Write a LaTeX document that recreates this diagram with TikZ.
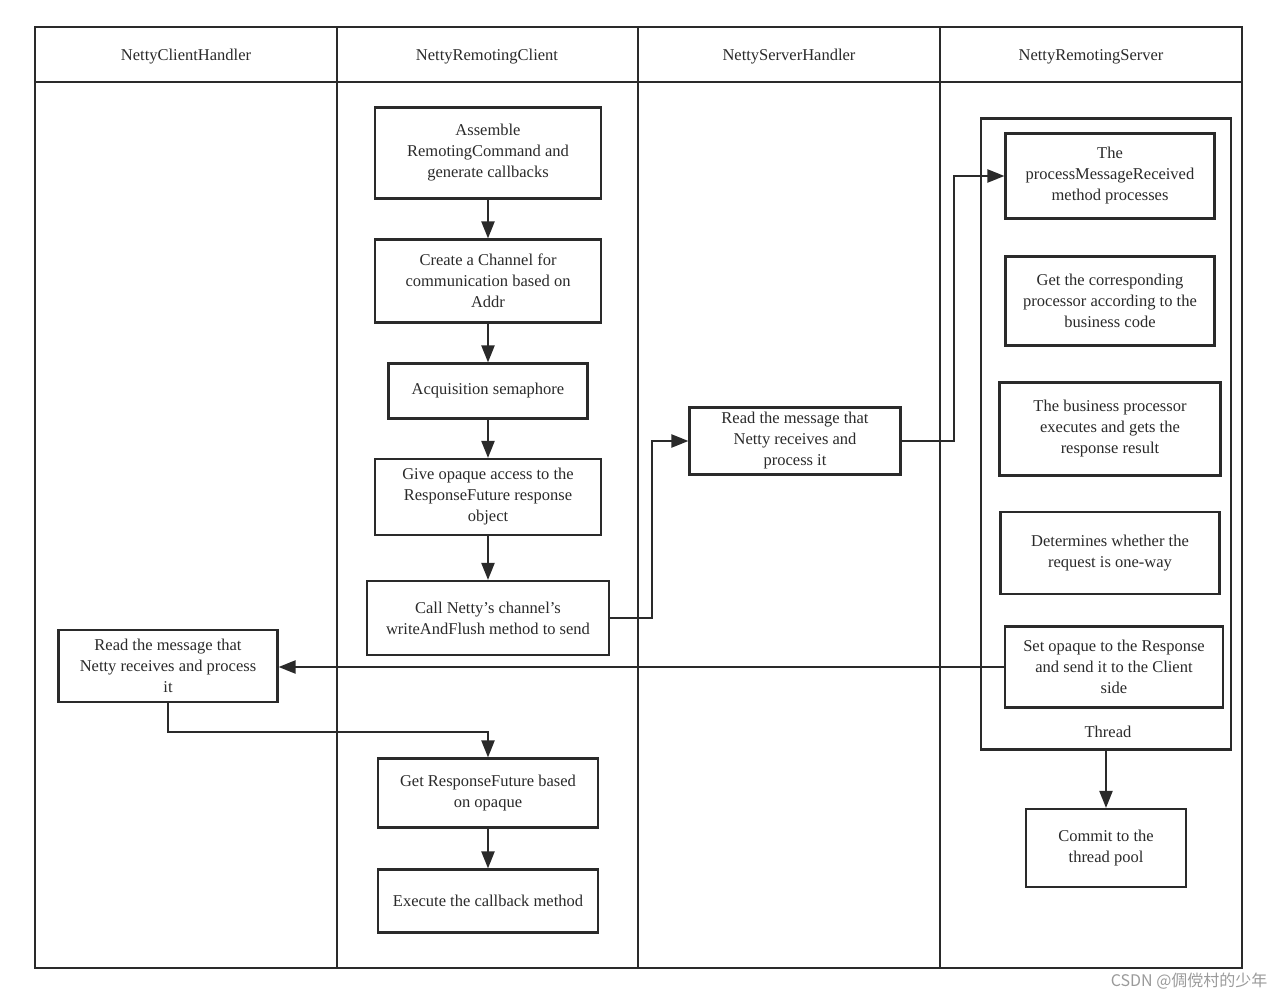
\documentclass[tikz,border=0pt]{standalone}
\usepackage{fontspec}
\setmainfont{Liberation Serif}
\newfontfamily\cjkfont{Noto Sans CJK SC}
\usetikzlibrary{arrows.meta}
\definecolor{ink}{HTML}{2A2A2A}
\definecolor{mark}{HTML}{9A9A9A}

\begin{document}
\begin{tikzpicture}[x=1pt, y=-1pt,
    box/.style={draw=ink, line width=2.1pt, align=center, inner sep=0pt, text=ink, font=\fontsize{16.5}{21}\selectfont},
    lane/.style={draw=ink, line width=2.4pt},
    head/.style={text=ink, font=\fontsize{16.5}{20}\selectfont},
    flow/.style={draw=ink, line width=2.1pt, -{Triangle[length=17pt, width=13pt]}}]
\useasboundingbox (0,0) rectangle (1286,1000);

% swim lanes
\draw[lane] (35,27) rectangle (1242,968);
\draw[lane] (35,82) -- (1242,82);
\foreach \x in {337,638,940}
    \draw[lane] (\x,27) -- (\x,968);

\node[head] (hdrClientHandler) at (186,57) {NettyClientHandler};
\node[head] (hdrRemotingClient) at (487,57) {NettyRemotingClient};
\node[head] (hdrServerHandler) at (789,57) {NettyServerHandler};
\node[head] (hdrRemotingServer) at (1091,57) {NettyRemotingServer};

% NettyRemotingClient
\node[box, minimum width=226, minimum height=91] (assemble) at (488,153) {Assemble\\RemotingCommand and\\generate callbacks};
\node[box, minimum width=226, minimum height=83] (channel) at (488,281) {Create a Channel for\\communication based on\\Addr};
\node[box, minimum width=199, minimum height=55] (semaphore) at (488,391) {Acquisition semaphore};
\node[box, minimum width=226, minimum height=76] (opaque) at (488,497) {Give opaque access to the\\ResponseFuture response\\object};
\node[box, minimum width=242, minimum height=74] (send) at (488,618) {Call Netty's channel's\\writeAndFlush method to send};
\node[box, minimum width=220, minimum height=69] (getfuture) at (488,793) {Get ResponseFuture based\\on opaque};
\node[box, minimum width=220, minimum height=63] (callback) at (488,901) {Execute the callback method};

% NettyClientHandler
\node[box, minimum width=219, minimum height=72] (cliread) at (168,666) {Read the message that\\Netty receives and process\\it};

% NettyServerHandler
\node[box, minimum width=211, minimum height=67] (srvread) at (795,441) {Read the message that\\Netty receives and\\process it};

% NettyRemotingServer
\node[box, minimum width=250, minimum height=631] (thread) at (1106,434) {};
\node[head] (threadlabel) at (1108,732) {Thread};
\node[box, minimum width=209, minimum height=85] (procmsg) at (1110,176) {The\\processMessageReceived\\method processes};
\node[box, minimum width=209, minimum height=89] (getproc) at (1110,301) {Get the corresponding\\processor according to the\\business code};
\node[box, minimum width=221, minimum height=93] (bizexec) at (1110,429) {The business processor\\executes and gets the\\response result};
\node[box, minimum width=219, minimum height=82] (oneway) at (1110,553) {Determines whether the\\request is one-way};
\node[box, minimum width=218, minimum height=81] (setresp) at (1114,667) {Set opaque to the Response\\and send it to the Client\\side};
\node[box, minimum width=160, minimum height=78] (pool) at (1106,848) {Commit to the\\thread pool};

\draw[flow] (assemble) -- (channel);
\draw[flow] (channel) -- (semaphore);
\draw[flow] (semaphore) -- (opaque);
\draw[flow] (opaque) -- (send);
\draw[flow] (send.east) -- ++(42,0) |- (srvread);
\draw[flow] (srvread.east) -- ++(52,0) |- (procmsg);
\draw[flow] (setresp.west) -- (setresp.west -| cliread.east);
\draw[flow] (cliread.south) -- ++(0,29) -| (getfuture.north);
\draw[flow] (getfuture) -- (callback);
\draw[flow] (thread.south) -- (pool.north);

\node[text=mark, anchor=east, font=\cjkfont\fontsize{16}{18}\selectfont] (watermark) at (1271,981) {CSDN @倜傥村的少年};
\end{tikzpicture}
\end{document}
